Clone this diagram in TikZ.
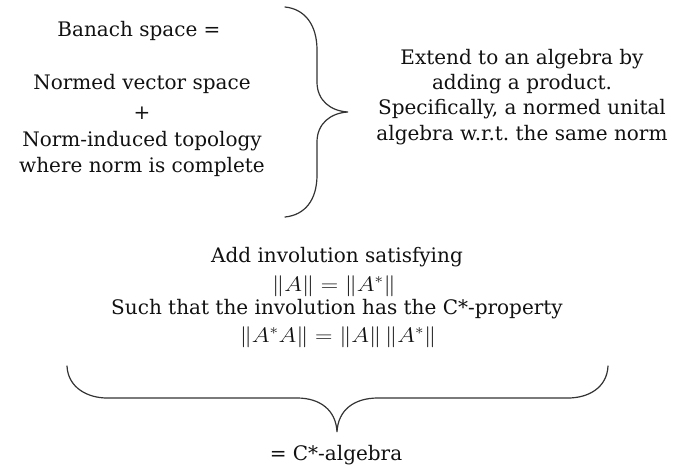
\documentclass[tikz,border=0pt]{standalone}
\usepackage{fix-cm}
\usepackage{amsmath}
\usepackage{graphicx}
\usepackage[no-math]{fontspec}
\setmainfont{DejaVu Serif}
\usepackage{tikz}
\definecolor{ink}{HTML}{111111}
\definecolor{bracegray}{HTML}{333333}

\begin{document}
\begin{tikzpicture}[x=1pt,y=-1pt,
    lbl/.style={text=ink,inner sep=0pt,align=center,font=\fontsize{20}{25.3}\selectfont},
    mth/.style={text=ink,inner sep=0pt,font=\fontsize{21}{21}\selectfont},
    brace/.style={draw=bracegray,line width=1.2pt,line cap=round}]
    \useasboundingbox (0,0) rectangle (673,469);
    % Banach space, left
    \node[lbl,anchor=base] (banach) at (139,36) {Banach space =};
    \node[lbl,anchor=north] (parts) at (142,74) {Normed vector space\\[5pt]+\\[2pt]Norm-induced topology\\where norm is complete};
    % algebra, right
    \node[lbl,anchor=north] (algebra) at (522,49) {Extend to an algebra by\\adding a product.\\Specifically, a normed unital\\algebra w.r.t.\ the same norm};
    \draw[brace] (285,7) .. controls (305,9) and (317,25) .. (317,50) -- (317,82)
      .. controls (317,100) and (330,111) .. (348,112)
      .. controls (330,113) and (317,124) .. (317,142) -- (317,175)
      .. controls (317,200) and (305,215) .. (285,217);
    % involution, below
    \node[lbl,anchor=base] (invol) at (337,262) {Add involution satisfying};
    \node[mth,anchor=base] (normeq) at (334,291) {\scalebox{1.15}[1]{$\|A\|=\|A^*\|$}};
    \node[lbl,anchor=base] (cstar) at (337,314) {Such that the involution has the C*-property};
    \node[mth,anchor=base] (cstareq) at (338,342) {\scalebox{1.15}[1]{$\|A^*A\|=\|A\|\,\|A^*\|$}};
    \draw[brace] (67,366) .. controls (68,388) and (88,398) .. (107,398) -- (297,398)
      .. controls (320,398) and (336,410) .. (337,432)
      .. controls (338,410) and (354,398) .. (378,398) -- (568,398)
      .. controls (588,398) and (607,388) .. (608,366);
    \node[lbl,anchor=base] (result) at (336,460) {= C*-algebra};
\end{tikzpicture}
\end{document}
